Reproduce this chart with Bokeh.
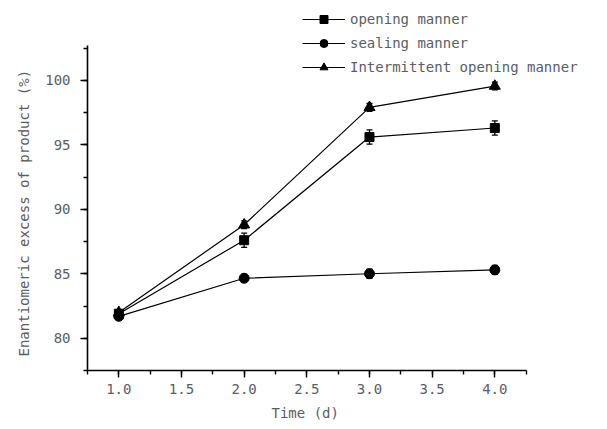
from bokeh.plotting import figure
from bokeh.models import (Range1d, SingleIntervalTicker, NumeralTickFormatter, Whisker,
                          ColumnDataSource, Legend, LegendItem, Title)
from bokeh.embed import file_html
from bokeh.resources import INLINE

time = [1.0, 2.0, 3.0, 4.0]
opening = [81.9, 87.6, 95.6, 96.3]
opening_err = [0.3, 0.55, 0.55, 0.55]
sealing = [81.7, 84.65, 85.0, 85.3]
sealing_err = [0.3, 0.3, 0.35, 0.35]
intermittent = [82.0, 88.8, 97.9, 99.55]
intermittent_err = [0.2, 0.3, 0.3, 0.3]

legend_labels = ["opening manner", "sealing manner", "Intermittent opening manner"]
x_label = "Time (d)"
y_label = "Enantiomeric excess of product (%)"

FONT = "DejaVu Sans Mono"
TXT = "#5b5d66"

# frame spans to the top/right edge so the legend (outside the axes box) is not clipped;
# the axes themselves are limited with "bounds"
p = figure(width=607, height=429, output_backend="svg", toolbar_location=None,
           x_range=Range1d(0.75, 4.899), y_range=Range1d(77.5, 106.03),
           min_border_left=87, min_border_right=0, min_border_top=2, min_border_bottom=59)
p.outline_line_color = None
p.xgrid.visible = False
p.ygrid.visible = False

for ax in (p.xaxis[0], p.yaxis[0]):
    ax.axis_line_width = 1.6
    ax.axis_line_color = "black"
    ax.major_tick_line_width = 1.4
    ax.minor_tick_line_width = 1.4
    ax.major_tick_out = 7
    ax.major_tick_in = 0
    ax.minor_tick_out = 4
    ax.minor_tick_in = 0
    ax.major_label_text_font = FONT
    ax.major_label_text_font_size = "14px"
    ax.major_label_text_color = TXT

p.xaxis.bounds = (0.75, 4.25)
p.xaxis.ticker = SingleIntervalTicker(interval=0.5, num_minor_ticks=2)
p.xaxis.formatter = NumeralTickFormatter(format="0.0")
p.xaxis.major_label_standoff = 6

p.yaxis.bounds = (77.5, 102.7)
p.yaxis.ticker = SingleIntervalTicker(interval=5, num_minor_ticks=2)
p.yaxis.formatter = NumeralTickFormatter(format="0")
p.yaxis.major_label_standoff = 10

# axis titles, placed along the bounded part of each axis
xt = Title(text=x_label, align="left", offset=184, standoff=13,
           text_font=FONT, text_font_size="14px", text_font_style="normal",
           text_color=TXT)
p.add_layout(xt, "below")
yt = Title(text=y_label, align="left", offset=14, standoff=22,
           text_font=FONT, text_font_size="14px", text_font_style="normal",
           text_color=TXT)
p.add_layout(yt, "left")

series = [(opening, opening_err, "square", 9),
          (sealing, sealing_err, "circle", 10),
          (intermittent, intermittent_err, "triangle", 11)]

items = []
for (vals, errs, marker, size), lab in zip(series, legend_labels):
    src = ColumnDataSource(dict(x=time, y=vals,
                                lo=[v - e for v, e in zip(vals, errs)],
                                hi=[v + e for v, e in zip(vals, errs)]))
    w = Whisker(source=src, base="x", lower="lo", upper="hi", line_color="black",
                line_width=1.3)
    w.upper_head.size = 6
    w.lower_head.size = 6
    w.upper_head.line_width = 1.3
    w.lower_head.line_width = 1.3
    p.add_layout(w)
    ln = p.line("x", "y", source=src, line_color="black", line_width=1.2)
    sc = p.scatter("x", "y", source=src, marker=marker, size=size,
                   fill_color="black", line_color="black")
    items.append(LegendItem(label=lab, renderers=[ln, sc]))

legend = Legend(items=items, location=(215, 293), orientation="vertical",
                glyph_width=43, glyph_height=20, label_height=20, spacing=4,
                label_standoff=5, padding=0, margin=0,
                border_line_color=None, background_fill_alpha=0,
                label_text_font=FONT, label_text_font_size="14px",
                label_text_color=TXT)
p.add_layout(legend, "center")

open("out.html", "w").write(file_html(p, INLINE))
